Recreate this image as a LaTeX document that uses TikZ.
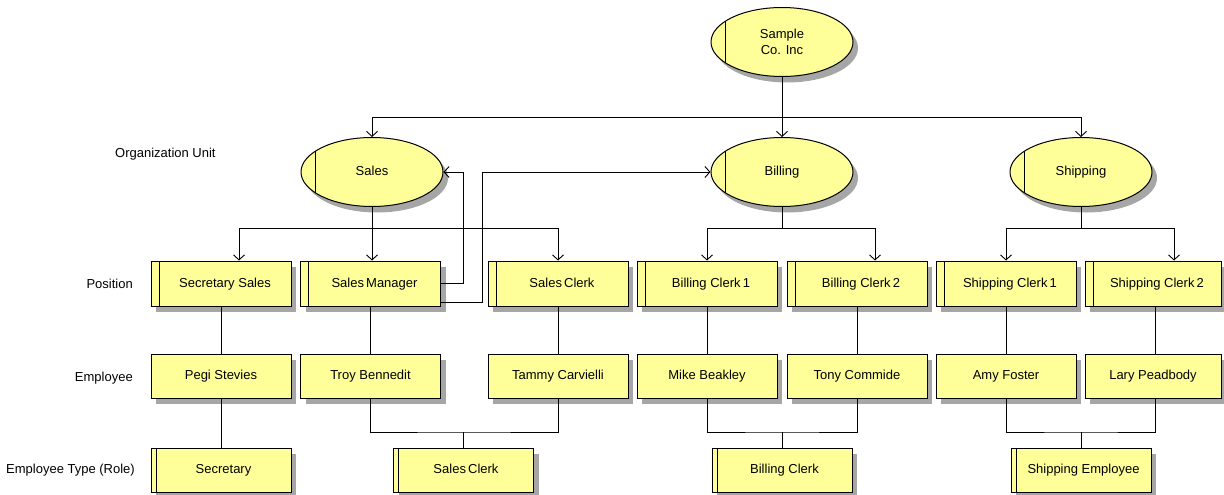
\documentclass[tikz,border=0pt]{standalone}
\usepackage{fontspec}
\setmainfont{Liberation Sans}
\usetikzlibrary{arrows.meta,shadows,calc,shapes.geometric}
\definecolor{boxyellow}{RGB}{255,255,153}
\definecolor{shadowgray}{RGB}{166,166,166}
\tikzset{
  shad/.style={drop shadow={shadow xshift=5pt,shadow yshift=-6pt,fill=shadowgray,opacity=1}},
  oneline/.style={text height=9.5pt,text depth=2.5pt},
  unit/.style={ellipse,draw=black,line width=1pt,fill=boxyellow,shad,minimum width=142pt,minimum height=69pt,inner sep=0pt,align=center,
    path picture={\draw[line width=1pt] ([xshift=14pt]path picture bounding box.north west) -- ([xshift=14pt]path picture bounding box.south west);}},
  posbox/.style={rectangle,draw=black,line width=1pt,fill=boxyellow,shad,minimum width=140pt,minimum height=45pt,inner sep=0pt,oneline,
    execute at begin node={\hspace*{8pt}},
    path picture={\draw[line width=0.9pt] ([xshift=8pt]path picture bounding box.north west) -- ([xshift=8pt]path picture bounding box.south west);}},
  empbox/.style={rectangle,draw=black,line width=1pt,fill=boxyellow,shad,minimum width=140pt,minimum height=44pt,inner sep=0pt,oneline},
  rolebox/.style={rectangle,draw=black,line width=1pt,fill=boxyellow,shad,minimum width=140pt,minimum height=44pt,inner sep=0pt,oneline,
    execute at begin node={\hspace*{5pt}},
    path picture={\draw[line width=0.9pt] ([xshift=5pt]path picture bounding box.north west) -- ([xshift=5pt]path picture bounding box.south west);}},
  conn/.style={draw=black,line width=0.9pt},
  arr/.style={conn,-{Straight Barb[length=5pt,width=11pt,line width=0.9pt]}},
  lbl/.style={inner sep=0pt},
}
\begin{document}
\begin{tikzpicture}[x=1pt,y=-1pt,font=\fontsize{13}{15.5}\selectfont]
\useasboundingbox (0,0) rectangle (1224,495);
% row labels
\node[lbl,anchor=west] (lou) at (115,154) {Organization Unit};
\node[lbl,anchor=east] (lpos) at (133,284) {Position};
\node[lbl,anchor=east] (lemp) at (133,378) {Employee};
\node[lbl,anchor=east] (lrole) at (135,470) {Employee Type (Role)};
% organization units
\node[unit] (top) at (782,42) {Sample\\Co. Inc};
\node[unit,oneline] (sales) at (372,172) {Sales};
\node[unit,oneline] (billing) at (782,172) {Billing};
\node[unit,oneline] (shipping) at (1081,172) {Shipping};
% positions
\node[posbox] (secsales) at (221,283.5) {Secretary Sales};
\node[posbox] (smgr) at (370.5,283.5) {Sales\,Manager};
\node[posbox] (sclerk) at (558,283.5) {Sales\,Clerk};
\node[posbox] (bc1) at (707,283.5) {Billing Clerk\,1};
\node[posbox] (bc2) at (857,283.5) {Billing Clerk\,2};
\node[posbox] (sc1) at (1006,283.5) {Shipping Clerk\,1};
\node[posbox,minimum width=136pt] (sc2) at (1153,283.5) {Shipping Clerk\,2};
% employees
\node[empbox] (pegi) at (221,376) {Pegi Stevies};
\node[empbox] (troy) at (370.5,376) {Troy Bennedit};
\node[empbox] (tammy) at (558,376) {Tammy Carvielli};
\node[empbox] (mike) at (707,376) {Mike Beakley};
\node[empbox] (tony) at (857,376) {Tony Commide};
\node[empbox] (amy) at (1006,376) {Amy Foster};
\node[empbox,minimum width=136pt] (lary) at (1153,376) {Lary Peadbody};
% roles
\node[rolebox] (rsec) at (221,470) {Secretary};
\node[rolebox] (rsc) at (463.5,470) {Sales\,Clerk};
\node[rolebox] (rbc) at (782,470) {Billing Clerk};
\node[rolebox] (rse) at (1081,470) {Shipping Employee};
% top level tree
\coordinate (tj) at (782,117);
\draw[conn] (top) -- (tj);
\draw[arr] (tj) -| (sales);
\draw[arr] (tj) -- (billing);
\draw[arr] (tj) -| (shipping);
% sales branch
\coordinate (sj) at (372,228);
\draw[conn] (sales) -- (sj);
\draw[arr] (sj) -| ([xshift=18pt]secsales.north);
\draw[arr] (sj) -- (sj |- smgr.north);
\draw[arr] (sj) -| (sclerk);
% billing branch
\coordinate (bj) at (782,228);
\draw[conn] (billing) -- (bj);
\draw[arr] (bj) -| (bc1);
\draw[arr] (bj) -| ([xshift=18pt]bc2.north);
% shipping branch
\coordinate (hj) at (1081,228);
\draw[conn] (shipping) -- (hj);
\draw[arr] (hj) -| (sc1);
\draw[arr] (hj) -| ([xshift=21pt]sc2.north);
% sales manager links
\coordinate (r1) at (463,283.5);
\coordinate (r2) at (482,302);
\draw[arr] (smgr.east) -- (r1) |- (sales);
\draw[arr] ([yshift=-18.5pt]smgr.east) -- (r2) |- (billing);
% position to employee
\draw[conn] (secsales) -- (pegi);
\draw[conn] (smgr) -- (troy);
\draw[conn] (sclerk) -- (tammy);
\draw[conn] (bc1) -- (mike);
\draw[conn] (bc2) -- (tony);
\draw[conn] (sc1) -- (amy);
\draw[conn] ([xshift=2pt]sc2.south) -- ([xshift=2pt]lary.north);
% employee to role
\draw[conn] (pegi) -- (rsec);
\coordinate (e1) at (463.5,432);
\draw[conn] (troy) |- (e1) -| (tammy);
\draw[conn] (e1) -- (rsc);
\coordinate (e2) at (782,432);
\draw[conn] (mike) |- (e2) -| (tony);
\draw[conn] (e2) -- (rbc);
\coordinate (e3) at (1081,432);
\draw[conn] (amy) |- (e3) -| ([xshift=2pt]lary.south);
\draw[conn] (e3) -- (rse);
\end{tikzpicture}
\end{document}
